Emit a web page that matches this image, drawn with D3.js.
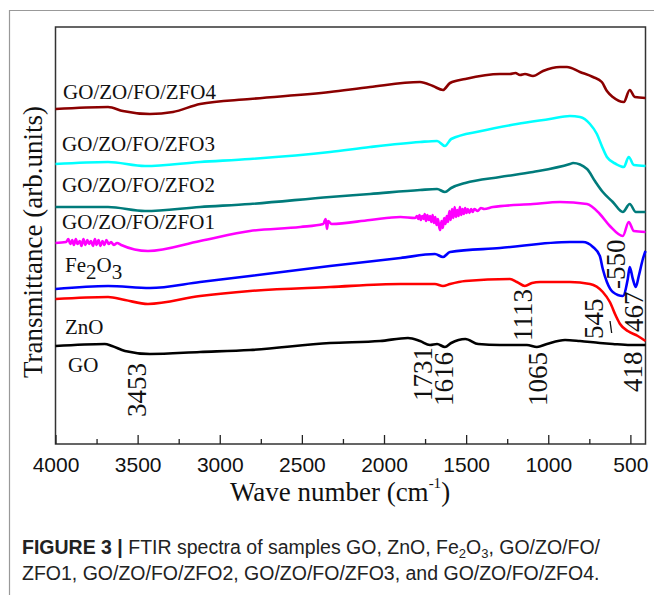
<!DOCTYPE html>
<meta charset="utf-8">
<style>
body { margin: 0; background: #fff; }
svg { display: block; }
.series { fill: none; stroke-width: 2.6; stroke-linejoin: round; }
.lbl { font-family: "Liberation Serif", "Times New Roman", serif; font-size: 21px; fill: #111; }
.ann { font-family: "Liberation Serif", "Times New Roman", serif; font-size: 27px; fill: #111; }
.tick text { font-family: "Liberation Sans", Arial, sans-serif; font-size: 21px; fill: #111; }
.tick line { stroke: #222; stroke-width: 1.3; }
.title { font-family: "Liberation Serif", "Times New Roman", serif; font-size: 27px; fill: #111; }
.caption { font-family: "Liberation Sans", Arial, sans-serif; font-size: 19.5px; fill: #222; }
</style>
<svg width="654" height="595"></svg>
<script src="https://cdn.jsdelivr.net/npm/d3@7"></script>
<script>

// wavenumber (cm-1), transmittance (arb. units, offset per sample)
var goData = [[4000,98],[3700,100],[3656,98],[3577,93],[3425,90],[3120,92],[2816,94],[2329,101],[2024,103],
  [1854,106],[1781,103],[1720,99],[1677,100],[1629,97],[1591,101],[1505,105],[1426,100],[1294,99],[1130,99],
  [1069,97],[1008,100],[898,104],[807,103],[686,101],[607,100],[500,99],[408,99]];

var znoData = [[4000,145],[3680,147],[3577,144],[3437,140],[3120,148],[2816,153],[2329,157],[1900,160],[1690,160],
  [1641,158],[1598,160],[1505,163],[1233,165],[1191,162],[1142,158],[1099,161],[1050,162],[868,162],[746,160],
  [668,152],[625,142],[588,128],[563,120],[516,113],[455,108],[408,103]];

var fe2o3Data = [[4000,155],[3680,158],[3425,156],[3120,162],[2816,168],[2329,178],[1900,186],[1690,190],[1641,187],
  [1598,192],[1294,196],[868,202],[789,202],[728,197],[686,188],[668,175],[643,162],[607,152],[546,148],[516,165],
  [504,177],[485,165],[467,157],[449,168],[424,185],[408,193]];

var zfo1Data = [[4000,201],[3935,202],[3922,205],[3910,200],[3898,204],[3888,199],[3876,205],[3866,200],[3852,203],
  [3842,198],[3830,205],[3818,199],[3806,204],[3796,200],[3784,203],[3772,198],[3760,205],[3750,199],[3738,204],
  [3726,198],[3714,203],[3702,199],[3690,204],[3676,200],[3662,202],[3645,199],[3625,201],[3600,199],[3437,193],
  [3120,203],[2816,213],[2510,217],[2370,220],[2355,225],[2347,215],[2340,223],[2320,220],[2085,224],[1900,227],
  [1810,226],[1800,228],[1792,225],[1784,229],[1776,224],[1768,228],[1760,225],[1752,230],[1744,223],[1736,229],
  [1728,224],[1720,228],[1712,222],[1704,229],[1696,221],[1688,227],[1680,219],[1672,225],[1664,217],[1658,214],
  [1650,223],[1642,216],[1634,226],[1626,220],[1618,228],[1610,222],[1602,233],[1594,224],[1586,235],[1578,226],
  [1570,237],[1562,227],[1554,234],[1546,228],[1538,237],[1530,229],[1522,235],[1514,230],[1506,236],[1498,231],
  [1490,235],[1480,231],[1470,235],[1460,232],[1450,235],[1430,233],[1410,236],[1390,235],[1337,237],[1093,240],
  [929,242],[764,240],[686,230],[625,218],[546,208],[510,222],[479,213],[408,212]];

var zfo2Data = [[4000,237],[3680,237],[3455,233],[3120,237],[2816,240],[2329,247],[2085,250],[1781,254],[1677,255],
  [1629,252],[1591,256],[1505,261],[1294,267],[1093,272],[868,280],[849,281],[764,275],[716,263],[668,252],
  [607,242],[546,232],[504,240],[467,232],[408,232]];

var zfo3Data = [[4000,280],[3680,282],[3455,278],[3120,282],[2816,285],[2329,292],[2085,297],[1781,302],[1677,303],
  [1629,298],[1591,305],[1408,313],[1191,320],[990,325],[868,328],[807,327],[746,320],[704,310],[674,298],
  [643,287],[588,280],[540,277],[510,287],[479,279],[408,278]];

var zfo4Data = [[4000,335],[3680,337],[3590,333],[3425,330],[3285,332],[3120,340],[2816,345],[2329,352],[2085,357],
  [1781,362],[1702,358],[1641,354],[1598,361],[1505,365],[1294,370],[1233,370],[1200,371],[1172,369],[1142,370],
  [1093,368],[1032,373],[929,377],[886,377],[807,372],[728,367],[674,362],[643,353],[607,347],[540,342],
  [504,354],[473,347],[408,346]];

var seriesNames = ["GO", "ZnO", "Fe2O3", "GO/ZO/FO/ZFO1", "GO/ZO/FO/ZFO2", "GO/ZO/FO/ZFO3", "GO/ZO/FO/ZFO4"];
var seriesData = [goData, znoData, fe2o3Data, zfo1Data, zfo2Data, zfo3Data, zfo4Data];
var seriesColors = ["#000000", "#ff0000", "#0000ff", "#ff00ff", "#007b7b", "#00ffff", "#8b0000"];
// label anchor (wavenumber, transmittance)
var labelAt = [[3924,72], [3942,110], [3942,172], [3960,215], [3960,252], [3960,293], [3954,345]];

var majorTicks = [4000, 3500, 3000, 2500, 2000, 1500, 1000, 500];
var minorTicks = [3750, 3250, 2750, 2250, 1750, 1250, 750];

// band assignments: text, wavenumber of text baseline, transmittance at text start
var annText = ["3453", "1731", "1616", "1065", "1113", "545", "-550", "467", "418"];
var annWn   = [3449, 1708, 1580, 1008, 1099, 668, 534, 423, 429];
var annT    = [27, 43, 38, 38, 103, 105, 155, 112, 52];

var svg = d3.select("svg");

var margin = {left: 55.5, right: 645.5, top: 27, bottom: 444};

var x = d3.scaleLinear().domain([4000, 408]).range([margin.left, margin.right]);
var y = d3.scaleLinear().domain([0, 417]).range([margin.bottom, margin.top]);

// outer figure frame
svg.append("path")
    .attr("d", "M9.5,595V10.5H654")
    .attr("fill", "none")
    .attr("stroke", "#999")
    .attr("stroke-width", 1.2);

// plot frame
svg.append("rect")
    .attr("x", margin.left).attr("y", margin.top)
    .attr("width", margin.right - margin.left)
    .attr("height", margin.bottom - margin.top)
    .attr("fill", "none")
    .attr("stroke", "#333")
    .attr("stroke-width", 1.5);

var line = d3.line()
    .x(function(d) { return x(d[0]); })
    .y(function(d) { return y(d[1]); })
    .curve(d3.curveMonotoneX);

svg.append("g").selectAll("path")
    .data(seriesData)
  .enter().append("path")
    .attr("class", "series")
    .attr("stroke", function(d, i) { return seriesColors[i]; })
    .attr("d", line);

// axes
var gx = svg.append("g")
    .attr("transform", "translate(0," + margin.bottom + ")")
    .call(d3.axisBottom(x).tickValues(majorTicks).tickSize(-9).tickPadding(13).tickFormat(d3.format("d")));
gx.select(".domain").remove();

var gm = svg.append("g")
    .attr("transform", "translate(0," + margin.bottom + ")")
    .call(d3.axisBottom(x).tickValues(minorTicks).tickSize(-5).tickFormat(""));
gm.select(".domain").remove();

// sample labels
svg.append("g").selectAll("text")
    .data(seriesNames)
  .enter().append("text")
    .attr("class", "lbl")
    .attr("x", function(d, i) { return x(labelAt[i][0]); })
    .attr("y", function(d, i) { return y(labelAt[i][1]); })
    .each(function(d) {
      var t = d3.select(this);
      if (d === "Fe2O3") {
        t.append("tspan").text("Fe");
        t.append("tspan").attr("dy", 7).text("2");
        t.append("tspan").attr("dy", -7).text("O");
        t.append("tspan").attr("dy", 7).text("3");
      } else {
        t.text(d);
      }
    });

// band annotations
svg.append("g").selectAll("text")
    .data(annText)
  .enter().append("text")
    .attr("class", "ann")
    .attr("transform", function(d, i) {
      return "translate(" + x(annWn[i]) + "," + y(annT[i]) + ") rotate(-90)";
    })
    .text(function(d) { return d; });

svg.append("line")
    .attr("x1", x(624)).attr("y1", y(123))
    .attr("x2", x(614)).attr("y2", y(111))
    .attr("stroke", "#111").attr("stroke-width", 1.3);

// axis titles
var xt = svg.append("text")
    .attr("class", "title")
    .attr("x", 340).attr("y", 501)
    .attr("text-anchor", "middle");
xt.append("tspan").text("Wave number (cm");
xt.append("tspan").attr("font-size", 15).attr("dy", -13).text("-1");
xt.append("tspan").attr("dy", 13).text(")");

svg.append("text")
    .attr("class", "title")
    .attr("font-size", 28)
    .attr("transform", "translate(42,242) rotate(-90)")
    .attr("text-anchor", "middle")
    .text("Transmittance (arb.units)");

// caption
var cap1 = svg.append("text").attr("class", "caption").attr("x", 22).attr("y", 554);
cap1.append("tspan").attr("font-weight", "bold").text("FIGURE 3 | ");
cap1.append("tspan").text("FTIR spectra of samples GO, ZnO, Fe");
cap1.append("tspan").attr("font-size", 13).attr("dy", 4).text("2");
cap1.append("tspan").attr("dy", -4).text("O");
cap1.append("tspan").attr("font-size", 13).attr("dy", 4).text("3");
cap1.append("tspan").attr("dy", -4).text(", GO/ZO/FO/");

svg.append("text").attr("class", "caption").attr("x", 22).attr("y", 580)
    .text("ZFO1, GO/ZO/FO/ZFO2, GO/ZO/FO/ZFO3, and GO/ZO/FO/ZFO4.");

</script>
